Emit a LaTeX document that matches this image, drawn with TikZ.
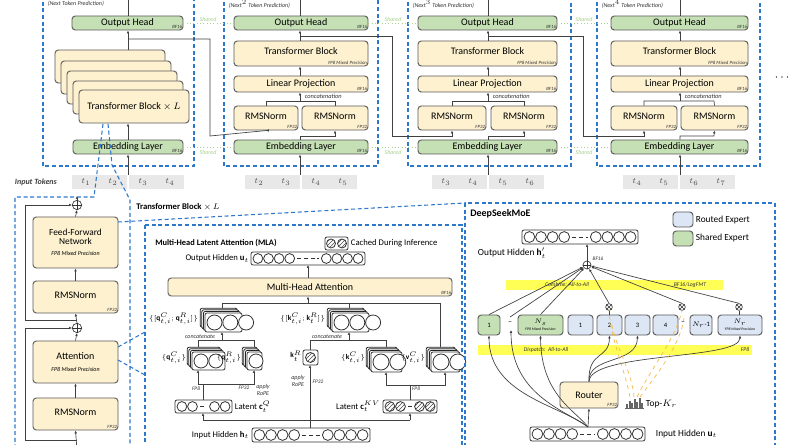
\documentclass[tikz,border=0pt]{standalone}
\usepackage{fontspec}
\setmainfont{Carlito}
\usetikzlibrary{patterns,arrows.meta}
\definecolor{bord}{HTML}{5A5A5A}
\definecolor{ylw}{HTML}{FDF1CF}
\definecolor{grn}{HTML}{C5E0B4}
\definecolor{blu}{HTML}{DDE6F4}
\definecolor{dblu}{HTML}{2E78CC}
\definecolor{tokg}{HTML}{E8E8E8}
\definecolor{shg}{HTML}{A9D18E}
\definecolor{band}{HTML}{FFFF55}
\definecolor{orng}{HTML}{F4B942}
\tikzset{
 blk/.style={draw=bord,fill=ylw,rounded corners=2.5pt,line width=0.7pt,inner sep=0pt,font=\fontsize{7.5}{8.5}\selectfont},
 gblk/.style={blk,fill=grn},
 bblk/.style={blk,fill=blu},
 tag/.style={font=\fontsize{3.6}{4}\selectfont\itshape,inner sep=0.6pt,text=black!80},
 arr/.style={draw=black!75,line width=0.5pt,-{Latex[length=2.2pt,width=2pt]}},
 ln/.style={draw=black!75,line width=0.5pt},
 mod/.style={draw=dblu,dash pattern=on 3pt off 2pt,line width=0.8pt},
 shr/.style={draw=shg,dotted,line width=0.5pt},
 shrt/.style={text=shg,font=\fontsize{4.5}{5}\selectfont\itshape,inner sep=0.5pt},
 lbl/.style={font=\fontsize{6.5}{7.5}\selectfont,inner sep=0.5pt},
 mlbl/.style={font=\fontsize{5.5}{6}\selectfont,inner sep=0.3pt},
 vbox/.style={draw=black!80,fill=white,rounded corners=1.5pt,line width=0.6pt},
 vc/.style={draw=black!80,line width=0.6pt,fill=white},
 hc/.style={draw=black!80,line width=0.6pt,pattern=north east lines,pattern color=black!70},
 tiny/.style={font=\fontsize{4}{4.5}\selectfont\itshape,inner sep=0.4pt,text=black!80},
}
\newcommand{\bx}[7]{\node[#6,minimum width={(#4-#2)*0.75pt},minimum height={(#5-#3)*0.75pt}] (#1) at ({(#2+#4)/2},{(#3+#5)/2}) {#7};}
\newcommand{\tg}[3]{\node[tag,anchor=south east] at (#1,#2) {#3};}
\newcommand{\vrow}[7]{%
 \pgfmathsetmacro\vr{(#4-#2)/2-1.6}%
 \draw[vbox] (#1,#2) rectangle (#3,#4);
 \foreach \i in {1,...,#5} \draw[#7] ({#1+2+\vr+(\i-1)*(2*\vr+0.8)},{(#2+#4)/2}) circle[radius=\vr];
 \foreach \i in {1,...,#6} \draw[#7] ({#3-2-\vr-(\i-1)*(2*\vr+0.8)},{(#2+#4)/2}) circle[radius=\vr];
 \draw[black!80,line width=0.6pt,dash pattern=on 3pt off 2pt] ({#1+2+#5*(2*\vr+0.8)+2},{(#2+#4)/2}) -- ({#3-2-#6*(2*\vr+0.8)-2},{(#2+#4)/2});
}
\newcommand{\stk}[6]{%
 \foreach \k in {3,2,1} \draw[draw=black!85,fill=white,rounded corners=1.5pt,line width=0.6pt] ({#1-1.6*\k},{#2-1.6*\k}) rectangle ({#3-1.6*\k},{#4-1.6*\k});
 \draw[vbox] (#1,#2) rectangle (#3,#4);
 \pgfmathsetmacro\vr{(#4-#2)/2-2}%
 \foreach \i in {1,...,#5} \draw[#6] ({#1+2+\vr+(\i-1)*(2*\vr+0.8)},{(#2+#4)/2}) circle[radius=\vr];
}
\newcommand{\oplusat}[3]{\node[circle,draw=black!80,line width=0.5pt,minimum size=#3,inner sep=0pt,fill=white] (#1) at (#2) {};
 \draw[black!80,line width=0.5pt] (#1.north)--(#1.south) (#1.west)--(#1.east);}
\newcommand{\otimesat}[2]{\node[circle,draw=black!80,line width=0.5pt,minimum size=5pt,inner sep=0pt,fill=white] (#1) at (#2) {};
 \draw[black!80,line width=0.5pt] (#1.north west)--(#1.south east) (#1.north east)--(#1.south west);}
\begin{document}
\begin{tikzpicture}[x=0.75pt,y=-0.75pt]
\useasboundingbox (0,0) rectangle (800,445);
\clip (0,0) rectangle (800,445);
\fill[white] (0,0) rectangle (800,445);
% ================= TOP: MTP modules
\draw[mod] (43,-5) rectangle (194,166);
\draw[mod] (224,-5) rectangle (378,166);
\draw[mod] (408,-5) rectangle (571,166);
\draw[mod] (597,-5) rectangle (760,166);
\node[tiny,anchor=west,font=\fontsize{4.5}{5}\selectfont\itshape] (lab1) at (47,4) {(Next Token Prediction)};
\node[tiny,anchor=west,font=\fontsize{4.5}{5}\selectfont\itshape] (lab2) at (228,4) {(Next$^2$ Token Prediction)};
\node[tiny,anchor=west,font=\fontsize{4.5}{5}\selectfont\itshape] (lab3) at (412,4) {(Next$^3$ Token Prediction)};
\node[tiny,anchor=west,font=\fontsize{4.5}{5}\selectfont\itshape] (lab4) at (601,4) {(Next$^4$ Token Prediction)};
% module 1
\bx{oh1}{72}{16}{183}{30}{gblk}{Output Head}\tg{183}{30}{BF16}
\foreach \k/\xx/\yy in {0/55/50,1/61/61,2/67/71,3/73/81}{\draw[blk,fill=ylw] (\xx,\yy) rectangle ++(110,33);}
\bx{tb1}{79}{90}{189}{123}{blk}{Transformer Block $\times\,L$}
\bx{em1}{73}{140}{183}{154}{gblk}{Embedding Layer}\tg{183}{154}{BF16}
% module 2..4
\foreach \n/\a/\b/\c/\d in {2/234/298/302/368,3/418/486/491/557,4/611/677/681/748}{
 \bx{oh\n}{\a}{16}{\d}{30}{gblk}{Output Head}\tg{\d}{30}{BF16}
 \bx{tb\n}{\a}{41}{\d}{66}{blk}{\raisebox{3pt}{Transformer Block}}\tg{\d}{66}{FP8 Mixed Precision}
 \bx{lp\n}{\a}{76}{\d}{92}{blk}{Linear Projection}\tg{\d}{92}{BF16}
 \bx{ra\n}{\a}{106}{\b}{130}{blk}{\raisebox{3pt}{RMSNorm}}\tg{\b}{130}{FP32}
 \bx{rb\n}{\c}{106}{\d}{130}{blk}{\raisebox{3pt}{RMSNorm}}\tg{\d}{130}{FP32}
 \bx{em\n}{\a}{140}{\d}{154}{gblk}{Embedding Layer}\tg{\d}{154}{BF16}
}
% shared
\foreach \p/\q/\x in {oh1/oh2/208,oh2/oh3/393,oh3/oh4/584}{
 \draw[shr] (\p.east) -- (\q.west);
 \node[shrt,fill=white] at (\x,19) {Shared};}
\foreach \p/\q/\x in {em1/em2/208,em2/em3/393,em3/em4/584}{
 \draw[shr] (\p.east) -- (\q.west);
 \node[shrt,fill=white] at (\x,152) {Shared};}
% tokens
\node[lbl,font=\fontsize{6}{7}\selectfont\itshape\bfseries,text=black!75,anchor=west] (intok) at (14,182) {Input Tokens};
\foreach \x/\i/\j/\k/\l in {72/1/2/3/4,245/2/3/4/5,432/3/4/5/6,623/4/5/6/7}{
 \fill[tokg] (\x,175) rectangle ++(55,14);
 \fill[tokg] ({\x+57},175) rectangle ++(55,14);
 \node[text=black!70,font=\fontsize{6.5}{7}\selectfont] at ({\x+14},182) {$t_{\i}$};
 \node[text=black!70,font=\fontsize{6.5}{7}\selectfont] at ({\x+41},182) {$t_{\j}$};
 \node[text=black!70,font=\fontsize{6.5}{7}\selectfont] at ({\x+71},182) {$t_{\k}$};
 \node[text=black!70,font=\fontsize{6.5}{7}\selectfont] at ({\x+98},182) {$t_{\l}$};
}
\node[font=\fontsize{9}{9}\selectfont] (dots) at (782,78) {$\cdots$};
% module 1 lines
\draw[arr] (128,175) -- (em1.south -| 128,0);
\draw[arr] (em1.north -| 128,0) -- (tb1.south -| 128,0);
\draw[arr] (128,50) -- (oh1.south -| 128,0);
\draw[ln] (oh1.north -| 128,0) -- (128,-2);
\draw[arr] (128,39) -- (210,39) -- (210,136) -- (ra2.south -| 267,136) -- (ra2.south);
% modules 2-4 lines
\foreach \n/\m/\cx/\la/\rb/\br in {2/3/300/266/335/392,3/4/488/452/524/583,4/5/680/644/714/0}{
 \draw[arr] (\cx,175) -- (em\n.south -| \cx,0);
 \draw[arr] (em\n.north -| \cx,0) -- (\cx,136) -- (\rb,136) -- (rb\n.south);
 \draw[ln] (ra\n.north) -- (\la,101) -- (\rb,101) -- (rb\n.north);
 \draw[arr] (\cx,101) -- (lp\n.south -| \cx,0);
 \node[tiny,font=\fontsize{4.8}{5}\selectfont\itshape,anchor=west] at ({\cx+4},96.5) {concatenation};
 \draw[arr] (lp\n.north -| \cx,0) -- (tb\n.south -| \cx,0);
 \draw[arr] (tb\n.north -| \cx,0) -- (oh\n.south -| \cx,0);
 \draw[ln] (oh\n.north -| \cx,0) -- (\cx,-2);
}
\draw[arr] (300,36) -- (392,36) -- (392,136) -- (452,136) -- (ra3.south);
\draw[arr] (488,36) -- (583,36) -- (583,136) -- (644,136) -- (ra4.south);
% ================= BOTTOM LEFT
\draw[mod] (103,124) -- (94,197) -- (15,197) -- (15,450);
\draw[mod] (108,124) -- (112,165) -- (130,200) -- (130,450);
\node[font=\fontsize{6.5}{7}\selectfont\bfseries,anchor=west,inner sep=0pt] (tbl) at (136,207) {Transformer Block {\mdseries$\times\,L$}};
\bx{ffn}{33}{217}{118}{268}{blk}{\shortstack{\fontsize{7}{8}\selectfont Feed-Forward\\[-1pt]\fontsize{7}{8}\selectfont Network\\[2pt]{\fontsize{4.5}{5}\selectfont\itshape FP8 Mixed Precision}}}
\bx{rms1}{33}{281}{118}{313}{blk}{\raisebox{3pt}{RMSNorm}}\tg{118}{313}{FP32}
\bx{att}{33}{341}{118}{383}{blk}{\shortstack{Attention\\[3pt]{\fontsize{4.5}{5}\selectfont\itshape FP8 Mixed Precision}}}
\bx{rms2}{33}{398}{118}{430}{blk}{\raisebox{3pt}{RMSNorm}}\tg{118}{430}{FP32}
\oplusat{pa}{77,205}{7pt}
\oplusat{pb}{77,328}{7pt}
\draw[arr] (pa.north) -- (77,196);
\draw[arr] (ffn.north) -- (pa.south);
\draw[arr] (rms1.north) -- (ffn.south);
\draw[arr] (pb.north) -- (rms1.south);
\draw[arr] (77,320) -- (25,320) -- (25,205) -- (pa.west);
\draw[arr] (att.north) -- (pb.south);
\draw[arr] (rms2.north) -- (att.south);
\draw[arr] (77,450) -- (rms2.south);
\draw[arr] (77,440) -- (25,440) -- (25,328) -- (pb.west);
% zoom lines
\draw[mod] (118,222) -- (465,203);
\draw[mod] (118,347) -- (145,332);
\draw[mod] (118,360) -- (145,375);
% ================= MLA
\draw[mod] (145,225) rectangle (462,450);
\node[font=\fontsize{6.3}{7}\selectfont\bfseries,anchor=west,inner sep=0pt] (mlat) at (155,243) {Multi-Head Latent Attention (MLA)};
\draw[vbox] (325,237) rectangle (348,250);
\draw[hc] (331,243.5) circle[radius=4.5];
\draw[hc] (342,243.5) circle[radius=4.5];
\node[lbl,anchor=west] (cached) at (350,243.5) {Cached During Inference};
\node[lbl,anchor=east] (ohl) at (250,258.5) {Output Hidden $\mathbf{u}_t$};
\vrow{251}{252}{365}{265}{4}{4}{vc}
\coordinate (ovec) at (308,265);
\bx{mha}{168}{278}{452}{296}{blk}{Multi-Head Attention}\tg{452}{296}{BF16}
\draw[arr] (mha.north -| ovec) -- (ovec);
% stacks
\stk{205}{313}{242}{332}{3}{vc}
\stk{332}{313}{369}{332}{3}{vc}
\node[mlbl,anchor=east] at (199,319) {$\{[\mathbf{q}^C_{t,i};\mathbf{q}^R_{t,i}]\}$};
\node[mlbl,anchor=east] at (326,319) {$\{[\mathbf{k}^C_{t,i};\mathbf{k}^R_{t}]\}$};
\stk{192}{352}{225}{370}{2}{vc}
\stk{247}{352}{262}{370}{1}{vc}
\node[mlbl,anchor=east] at (187,358) {$\{\mathbf{q}^C_{t,i}\}$};
\node[mlbl,anchor=east] at (242,358) {$\{\mathbf{q}^R_{t,i}\}$};
\draw[vbox] (303,350) rectangle (318,365);
\draw[hc] (310.5,357.5) circle[radius=5];
\node[mlbl,anchor=east] at (302,356) {$\mathbf{k}^R_t$};
\stk{371}{352}{402}{372}{2}{vc}
\stk{431}{352}{460}{372}{2}{vc}
\node[mlbl,anchor=east] at (366,358) {$\{\mathbf{k}^C_{t,i}\}$};
\node[mlbl,anchor=east] at (426,358) {$\{\mathbf{v}^C_{t,i}\}$};
% lines to MHA
\draw[ln] (222,308) -- (222,303) -- (440,303) -- (440,347);
\draw[ln] (349,303) -- (349,308);
\draw[arr] (308,303) -- (mha.south -| 308,0);
% concatenate
\draw[ln] (198,347) -- (198,340) -- (254,340) -- (254,347);
\draw[arr] (222,340) -- (222,332);
\node[tiny,font=\fontsize{4.5}{5}\selectfont\itshape,fill=white] at (200,336.5) {concatenate};
\draw[ln] (310,350) -- (310,340) -- (386,340) -- (386,347);
\draw[arr] (349,340) -- (349,332);
\node[tiny,font=\fontsize{4.5}{5}\selectfont\itshape,fill=white] at (327,336.5) {concatenate};
% latent
\vrow{175}{400}{232}{413}{2}{2}{vc}
\node[lbl,anchor=west] at (234,406.5) {Latent $\mathbf{c}^Q_t$};
\vrow{383}{400}{437}{413}{2}{2}{hc}
\node[lbl,anchor=east] at (381,406.5) {Latent $\mathbf{c}^{KV}_t$};
\draw[arr] (203,400) -- (203,384) -- (198,384) -- (198,370);
\draw[arr] (203,384) -- (254,384) -- (254,370);
\node[tiny] at (196,389) {FP8};
\node[tiny] at (244,388) {FP32};
\node[tiny,align=center,font=\fontsize{4.5}{5}\selectfont\itshape] at (263,390) {apply\\RoPE};
\draw[arr] (410,400) -- (410,385) -- (386,385) -- (386,372);
\draw[arr] (410,385) -- (445,385) -- (445,372);
\node[tiny] at (416,389) {FP8};
\node[tiny,align=center,font=\fontsize{4.5}{5}\selectfont\itshape] at (298,381) {apply\\RoPE};
\node[tiny] at (318,382) {FP32};
% input
\node[lbl,anchor=east] at (250,435) {Input Hidden $\mathbf{h}_t$};
\vrow{252}{428}{370}{442}{4}{4}{vc}
\draw[arr] (310,428) -- (310,365);
\draw[arr] (203,420) -- (203,413);
\draw[ln] (203,420) -- (410,420);
\draw[arr] (410,420) -- (410,413);
% ================= MoE
\draw[mod] (465,203) rectangle (775,450);
\node[font=\fontsize{7.5}{8}\selectfont\bfseries,anchor=west,inner sep=0pt] (moet) at (470,214) {DeepSeekMoE};
\bx{lgb}{673}{212}{693}{227}{bblk}{}
\node[lbl,anchor=west,font=\fontsize{7}{8}\selectfont] at (695,220) {Routed Expert};
\bx{lgg}{673}{231}{693}{246}{gblk}{}
\node[lbl,anchor=west,font=\fontsize{7}{8}\selectfont] at (695,238.5) {Shared Expert};
\vrow{522}{230}{638}{244}{4}{4}{vc}
\node[lbl,anchor=west,font=\fontsize{7}{8}\selectfont] at (477,253) {Output Hidden $\mathbf{h}'_t$};
\oplusat{moep}{587,265}{6pt}
\draw[arr] (moep.north) -- (587,244);
\node[tiny] at (598,259) {BF16};
\fill[band] (506,280) rectangle (723,290);
\node[tiny,font=\fontsize{4.3}{5}\selectfont\itshape] at (567,285) {Combine: All-to-All};
\node[tiny,font=\fontsize{4.3}{5}\selectfont\itshape] at (690,285) {BF16/LogFMT};
\fill[band] (478,345) rectangle (752,355);
\node[tiny,font=\fontsize{4.3}{5}\selectfont\itshape] at (546,350) {Dispatch:\ \ All-to-All};
\node[tiny,font=\fontsize{4.3}{5}\selectfont\itshape] at (745,350) {FP8};
% experts
\bx{s1}{478}{315}{500}{335}{gblk}{\fontsize{5}{6}\selectfont 1}
\node[font=\fontsize{6}{6}\selectfont] (sd) at (510,323) {--};
\bx{sn}{518}{315}{563}{335}{gblk}{\shortstack{\fontsize{5.5}{6}\selectfont$N_s$\\[-1pt]\fontsize{2.8}{3}\selectfont\itshape FP8 Mixed Precision}}
\bx{r1}{568}{315}{593}{335}{bblk}{\fontsize{5}{6}\selectfont 1}
\bx{r2}{597}{315}{622}{335}{bblk}{\fontsize{5}{6}\selectfont 2}
\bx{r3}{625}{315}{650}{335}{bblk}{\fontsize{5}{6}\selectfont 3}
\bx{r4}{653}{315}{678}{335}{bblk}{\fontsize{5}{6}\selectfont 4}
\node[font=\fontsize{6}{6}\selectfont] (rd) at (683,323) {--};
\bx{rm}{690}{315}{712}{335}{bblk}{\fontsize{5}{6}\selectfont $N_r$-1}
\bx{rn}{718}{315}{762}{335}{bblk}{\shortstack{\fontsize{5.5}{6}\selectfont$N_r$\\[-1pt]\fontsize{2.8}{3}\selectfont\itshape FP8 Mixed Precision}}
\otimesat{g2}{609,307}
\otimesat{g3}{682,307}
\otimesat{g4}{739,307}
\draw[ln] (r2.north -| g2) -- (g2.south);
\draw[ln] (rn.north -| g4) -- (g4.south);
\draw[arr] (s1.north) -- (moep);
\draw[arr] (sd.north) -- (moep);
\draw[arr] (sn.north) -- (moep);
\draw[arr] (g2.north) -- (moep);
\draw[arr] (g3.north) -- (moep);
\draw[arr] (g4.north) -- (moep);
% router
\bx{rt}{560}{382}{618}{408}{blk}{Router}\tg{618}{408}{FP32}
\vrow{530}{427}{645}{441}{4}{4}{vc}
\node[lbl,anchor=west,font=\fontsize{7}{8}\selectfont] at (655,434) {Input Hidden $\mathbf{u}_t$};
\coordinate (uin) at (588,427);
\draw[arr] (uin) -- (rt.south);
\draw[arr] (uin) .. controls (560,405) and (489,395) .. (s1.south);
\draw[arr] (uin) .. controls (565,410) and (511,395) .. (511,330);
\draw[arr] (uin) .. controls (575,410) and (541,395) .. (sn.south);
\draw[arr] (rt.north) .. controls (588,350) and (609,360) .. (r2.south);
\draw[arr] (rt.north) .. controls (588,355) and (637,365) .. (r3.south);
\draw[arr] (rt.north) .. controls (590,352) and (740,360) .. (rn.south);
% top-k
\foreach \xx/\hh in {626/4,628.5/7,631/5,633.5/9,636/6,638.5/10,641/5}{\fill[black!60] (\xx,408) rectangle ++(2,-\hh);}
\draw[black!60,line width=0.4pt] (625,408) -- (644,408);
\node[lbl,anchor=west,font=\fontsize{7}{8}\selectfont] (topk) at (645,404) {Top-$K_r$};
\draw[orng,dashed,line width=0.5pt] (630,397) .. controls (625,370) and (611,340) .. (g2.south);
\draw[orng,dashed,line width=0.5pt] (634,397) .. controls (632,370) and (614,345) .. (611,320);
\draw[orng,dashed,line width=0.5pt] (637,397) .. controls (650,370) and (675,340) .. (g3.south);
\draw[orng,dashed,line width=0.5pt] (640,397) .. controls (660,370) and (680,345) .. (684,318);
\end{tikzpicture}
\end{document}
